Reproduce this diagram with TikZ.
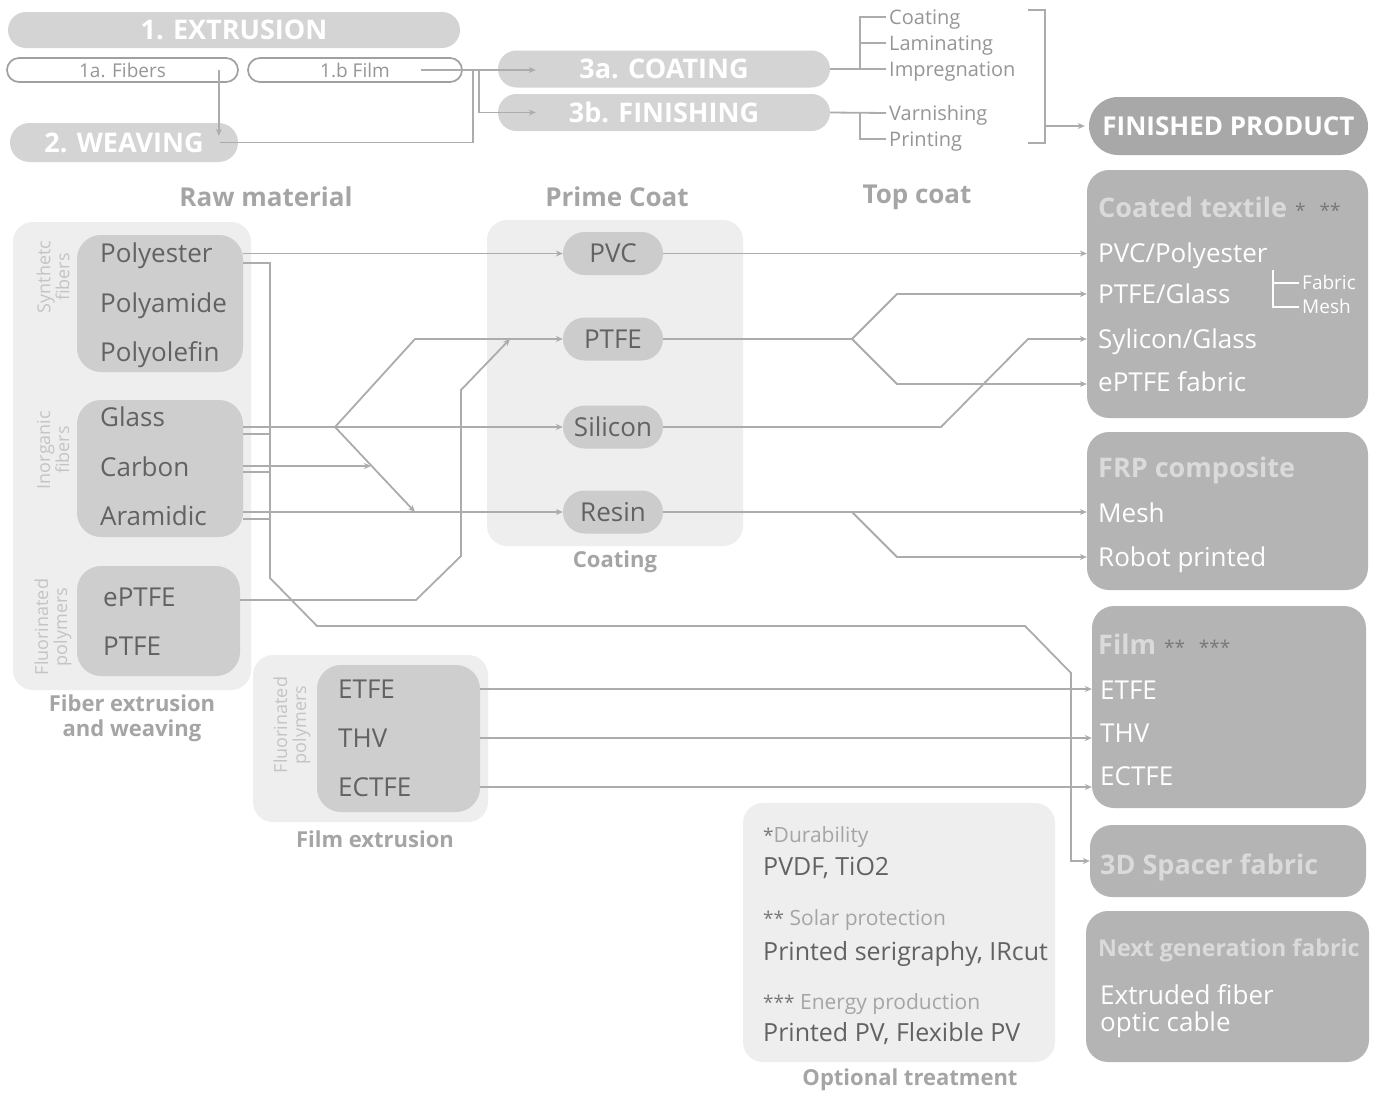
\documentclass[tikz,border=0pt]{standalone}
\usepackage{fontspec}
\setmainfont{Open Sans}
\usepackage{tikz}
\usetikzlibrary{arrows.meta,shapes.misc,calc}
\usepackage{xcolor}
\definecolor{boxlight}{RGB}{238,238,238}
\definecolor{boxmid}{RGB}{206,206,206}
\definecolor{pillgray}{RGB}{204,204,204}
\definecolor{boxdark}{RGB}{180,180,180}
\definecolor{stepgray}{RGB}{212,212,212}
\definecolor{finalgray}{RGB}{168,168,168}
\definecolor{linegray}{RGB}{172,172,172}
\definecolor{outgray}{RGB}{160,160,160}
\definecolor{txtdark}{RGB}{98,98,98}
\definecolor{txtsoft}{RGB}{150,150,150}
\definecolor{txthead}{RGB}{165,165,165}
\definecolor{txtside}{RGB}{196,196,196}
\definecolor{titlelight}{RGB}{218,218,218}
\definecolor{stargray}{RGB}{120,120,120}
\tikzstyle{link} = [line width=1.8pt, draw=linegray]
\tikzstyle{arrow} = [link, -{Stealth[length=7pt,width=6pt]}]
\tikzstyle{steppill} = [rounded rectangle, fill=stepgray, text=white, inner sep=0pt, font=\bfseries\fontsize{27}{30}\selectfont]
\tikzstyle{outpill} = [rounded rectangle, draw=outgray, line width=1.7pt, fill=white, text=txtsoft, inner sep=0pt, font=\fontsize{19}{22}\selectfont]
\tikzstyle{finalpill} = [rounded rectangle, fill=finalgray, text=white, inner sep=0pt, font=\bfseries\fontsize{26}{30}\selectfont]
\tikzstyle{sidenote} = [anchor=west, inner sep=0pt, text=txtsoft, text height=14.3pt, text depth=0pt, font=\fontsize{20}{24}\selectfont]
\tikzstyle{headtext} = [text=txthead, font=\bfseries\fontsize{26}{30}\selectfont]
\tikzstyle{labeltext} = [text=txthead, align=center, font=\bfseries\fontsize{22}{25}\selectfont]
\tikzstyle{lightbox} = [rectangle, rounded corners=20pt, fill=boxlight, inner sep=0pt]
\tikzstyle{innerbox} = [rectangle, rounded corners=24pt, fill=boxmid, inner sep=0pt]
\tikzstyle{rightbox} = [rectangle, rounded corners=22pt, fill=boxdark, inner sep=0pt]
\tikzstyle{coatpill} = [rounded rectangle, fill=pillgray, text=txtdark, minimum width=100pt, minimum height=43pt, inner sep=0pt, font=\fontsize{26}{30}\selectfont]
\tikzstyle{listitem} = [anchor=west, inner sep=0pt, text=txtdark, text height=18.6pt, text depth=0pt, font=\fontsize{26}{30}\selectfont]
\tikzstyle{sidelabel} = [rotate=90, align=center, text=txtside, font=\fontsize{18}{19}\selectfont]
\tikzstyle{righttitle} = [listitem, text=titlelight, text height=19.3pt, font=\bfseries\fontsize{27}{30}\selectfont]
\tikzstyle{rightitem} = [listitem, text=white]
\tikzstyle{opthead} = [listitem, text=txthead, text height=15pt, font=\fontsize{21}{24}\selectfont]
\tikzstyle{optitem} = [listitem, text height=17.9pt, font=\fontsize{25}{28}\selectfont]
\newcommand{\stars}[1]{{\mdseries\fontsize{19}{20}\selectfont\color{stargray}#1}}

\begin{document}
\begin{tikzpicture}[x=1pt, y=-1pt]
\fill[white] (0,0) rectangle (1380,1095);
\useasboundingbox (0,0) rectangle (1380,1095);

% Process chain
\node[steppill, minimum width=452pt, minimum height=36pt] (extr) at (234,30) {1. EXTRUSION};
\node[outpill, minimum width=231pt, minimum height=24pt] (fibers) at (122.5,70) {1a. Fibers};
\node[outpill, minimum width=214pt, minimum height=24pt] (film) at (355,70) {1.b Film};
\node[steppill, minimum width=228pt, minimum height=39pt] (weav) at (124,142.5) {2. WEAVING};
\node[steppill, minimum width=332pt, minimum height=37pt] (coat) at (664,69) {3a. COATING};
\node[steppill, minimum width=332pt, minimum height=37pt] (finish) at (664,112.5) {3b. FINISHING};
\node[finalpill, minimum width=279pt, minimum height=58pt] (fin) at (1228.5,126) {FINISHED PRODUCT};

\node[sidenote] (tcoat) at (889,17) {Coating};
\node[sidenote] (tlamin) at (889,43) {Laminating};
\node[sidenote] (timpr) at (889,69) {Impregnation};
\node[sidenote] (tvarn) at (889,113) {Varnishing};
\node[sidenote] (tprint) at (889,139) {Printing};

\draw[arrow] ($(fibers.east)+(-20,0)$) -- ($(fibers.east |- weav.north)+(-20,13)$);
\draw[link] ($(weav.east)+(-18,0)$) -| ($(film.east)+(10,0)$);
\draw[arrow] ($(film.east)+(-42,0)$) -- ($(film.east -| coat.west)+(38,0)$);
\draw[arrow] ($(film.east)+(16,0)$) |- ($(finish.west)+(38,0)$);

\draw[link] (coat.east) -- ($(timpr.west)+(-3,0)$);
\draw[link] ($(tcoat.west)+(-3,0)$) -| ($(timpr.west)+(-29,0)$);
\draw[link] ($(tlamin.west)+(-3,0)$) -- ++(-26,0);
\draw[link] (finish.east) -- ($(tvarn.west)+(-3,0)$);
\draw[link] ($(tprint.west)+(-3,0)$) -| ($(tvarn.west)+(-29,0)$);

\coordinate (brtop) at (1028,10);
\coordinate (brbot) at (1028,143);
\draw[link] (brtop) -| ($(fin.west |- brbot)+(-44,0)$) -- (brbot);
\draw[arrow] ($(fin.west)+(-44,0)$) -- ($(fin.west)+(-4,0)$);

% Column heads
\node[headtext] (hraw) at (266,197) {Raw material};
\node[headtext] (hprime) at (617,197) {Prime Coat};
\node[headtext] (htop) at (917,197) {Top coat};

% Fiber extrusion and weaving
\node[lightbox, minimum width=238pt, minimum height=468pt] (fibbox) at (132,456) {};
\node[innerbox, minimum width=166pt, minimum height=137pt] (synbox) at (160,303.5) {};
\node[innerbox, minimum width=166pt, minimum height=137pt] (inobox) at (160,468.5) {};
\node[innerbox, minimum width=163pt, minimum height=110pt] (flubox) at (158.5,621) {};
\node[listitem] (polyester) at (100,253) {Polyester};
\node[listitem] (polyamide) at (100,303) {Polyamide};
\node[listitem] (polyolefin) at (100,352) {Polyolefin};
\node[listitem] (glass) at (100,417) {Glass};
\node[listitem] (carbon) at (100,467) {Carbon};
\node[listitem] (aramidic) at (100,516) {Aramidic};
\node[listitem] (eptfe) at (103,597) {ePTFE};
\node[listitem] (fptfe) at (103,646) {PTFE};
\node[sidelabel] (lsyn) at (53,277) {Synthetc\\fibers};
\node[sidelabel] (lino) at (53,450) {Inorganic\\fibers};
\node[sidelabel] (lflu) at (53,627) {Fluorinated\\polymers};
\node[labeltext] (lfib) at (132,718) {Fiber extrusion\\and weaving};

% Film extrusion
\node[lightbox, minimum width=235pt, minimum height=167pt] (filmbox) at (370.5,738.5) {};
\node[innerbox, minimum width=163pt, minimum height=147pt] (filminner) at (398.5,738.5) {};
\node[listitem] (etfe) at (338,689) {ETFE};
\node[listitem] (thv) at (338,738) {THV};
\node[listitem] (ectfe) at (338,787) {ECTFE};
\node[sidelabel] (lflm) at (292,725) {Fluorinated\\polymers};
\node[labeltext] (lfilm) at (375,839) {Film extrusion};

% Prime coat
\node[lightbox, minimum width=256pt, minimum height=326pt] (coatbox) at (615,383) {};
\node[coatpill] (pvc) at (613,253.5) {PVC};
\node[coatpill] (pptfe) at (613,339) {PTFE};
\node[coatpill] (silicon) at (613,427) {Silicon};
\node[coatpill] (resin) at (613,512) {Resin};
\node[labeltext] (lcoat) at (615,562) {Coating};

% Finished products
\node[rightbox, minimum width=281pt, minimum height=248pt] (ctbox) at (1227.5,294) {};
\node[righttitle] (tct) at (1098,208) {Coated textile\stars{\hspace{8pt}*\hspace{14pt}**}};
\node[rightitem] (pvcpoly) at (1098,253) {PVC/Polyester};
\node[rightitem] (ptfeglass) at (1098,294) {PTFE/Glass};
\node[rightitem] (silglass) at (1098,339) {Sylicon/Glass};
\node[rightitem] (eptfefab) at (1098,382) {ePTFE fabric};
\node[rightitem, text height=13.6pt, font=\fontsize{19}{22}\selectfont] (tfabric) at (1302,283) {Fabric};
\node[rightitem, text height=13.6pt, font=\fontsize{19}{22}\selectfont] (tmesh) at (1302,307) {Mesh};
\draw[white, line width=1.4pt] ($(tfabric.west)+(-3,0)$) -- ++(-26,0);
\draw[white, line width=1.4pt] ($(tmesh.west)+(-3,0)$) -| ($(tfabric.west)+(-29,-13)$);

\node[rightbox, minimum width=281pt, minimum height=158pt] (frpbox) at (1227.5,511) {};
\node[righttitle] (tfrp) at (1098,468) {FRP composite};
\node[rightitem] (mesh) at (1098,513) {Mesh};
\node[rightitem] (robot) at (1098,557) {Robot printed};

\node[rightbox, minimum width=274pt, minimum height=202pt] (filmres) at (1229,707) {};
\node[righttitle] (tfilm) at (1098,645) {Film\stars{\hspace{8pt}**\hspace{14pt}***}};
\node[rightitem] (retfe) at (1100,690) {ETFE};
\node[rightitem] (rthv) at (1100,733) {THV};
\node[rightitem] (rectfe) at (1100,776) {ECTFE};

\node[rightbox, minimum width=276pt, minimum height=72pt] (spacer) at (1228,861) {};
\node[righttitle] (tspacer) at (1100,865) {3D Spacer fabric};

\node[rightbox, minimum width=283pt, minimum height=151pt] (nextgen) at (1227.5,986.5) {};
\node[righttitle, text height=16.6pt, font=\bfseries\fontsize{23.2}{27}\selectfont] (tnext) at (1098,948) {Next generation fabric};
\node[rightitem] (extr1) at (1100,995) {Extruded fiber};
\node[rightitem] (extr2) at (1100,1022) {optic cable};

% Optional treatment
\node[lightbox, minimum width=312pt, minimum height=259pt] (optbox) at (899,932.5) {};
\node[opthead] (odur) at (763,835) {\stars{*}Durability};
\node[optitem] (opvdf) at (763,867) {PVDF, TiO2};
\node[opthead] (osol) at (763,918) {\stars{**} Solar protection};
\node[optitem] (oseri) at (763,952) {Printed serigraphy, IRcut};
\node[opthead] (oene) at (763,1002) {\stars{***} Energy production};
\node[optitem] (opv) at (763,1033) {Printed PV, Flexible PV};
\node[labeltext] (lopt) at (910,1080) {Optional treatment};

% Raw material to prime coat
\draw[arrow] (synbox.east |- pvc) -- (pvc.west);
\draw[arrow] ($(synbox.east |- polyester)+(0,10)$) -| (270,578) -- (317,626) -- (1025,626) -- (1071,673) |- (spacer.west);
\draw[arrow] (inobox.east |- silicon) -- (silicon.west);
\draw[link] ($(inobox.east |- silicon)+(0,7)$) -- ++(27,0);
\coordinate (cj) at (371,466);
\draw[arrow] (inobox.east |- cj) -- (cj);
\draw[link] ($(inobox.east |- cj)+(0,6)$) -- ++(27,0);
\draw[arrow] (inobox.east |- resin) -- (resin.west);
\draw[link] ($(inobox.east |- resin)+(0,7)$) -- ++(27,0);
\coordinate (fork) at (335,427);
\draw[arrow] (fork) -- (415,339) -- (pptfe.west);
\draw[arrow] (fork) -- (415,512);
\coordinate (merge) at (510,339);
\draw[arrow] ($(flubox.east |- eptfe)+(0,3)$) -- (416,600) -- (461,556) -- (461,390) -- (merge);

% Prime coat to products
\draw[arrow] (pvc.east) -- (ctbox.west |- pvc);
\coordinate (pfork) at (852,339);
\draw[arrow] (pptfe.east) -- (pfork) -- ($(pfork)+(45,-45)$) -- (ctbox.west |- ptfeglass);
\draw[arrow] (pfork) -- ($(pfork)+(45,45)$) -- ($(ctbox.west |- pfork)+(0,45)$);
\draw[arrow] (silicon.east) -- (941,427) -- (1028,339) -- (ctbox.west |- silglass);
\coordinate (rfork) at (852,512);
\draw[arrow] (resin.east) -- (frpbox.west |- resin);
\draw[arrow] (rfork) -- ($(rfork)+(45,45)$) -- (frpbox.west |- robot);

% Film extrusion to products
\draw[arrow] (filminner.east |- etfe) -- (filmres.west |- etfe);
\draw[arrow] (filminner.east |- thv) -- (filmres.west |- thv);
\draw[arrow] (filminner.east |- ectfe) -- (filmres.west |- ectfe);
\end{tikzpicture}
\end{document}
